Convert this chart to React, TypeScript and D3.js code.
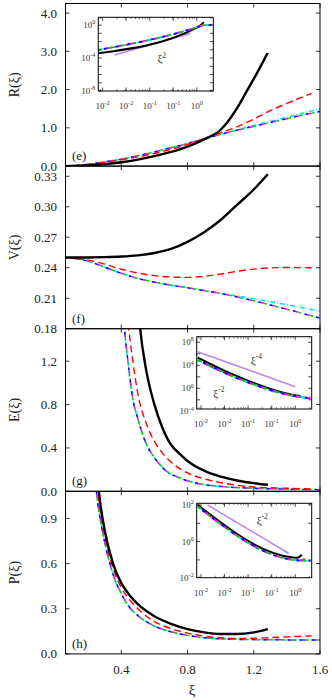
import * as d3 from 'd3';
import React from 'react';

const W = 332;
const H = 700;
const plotLeft = 65.5;
const plotRight = 320;
const panelTop = 3.5;
const panelH = 162.6;
const serif = "'Liberation Serif', 'Times New Roman', serif";

// shared x axis
const xiDomain = [0.063, 1.6];
const xiTicks = [0.4, 0.8, 1.2, 1.6];

// (e) R(xi)
const blackXiR = [0.063, 0.1, 0.2, 0.3, 0.4, 0.5, 0.6, 0.7, 0.8, 0.9, 1.0, 1.05, 1.1, 1.15, 1.2, 1.25, 1.285];
const blackR = [0, 0.003, 0.02, 0.05, 0.1, 0.17, 0.26, 0.37, 0.51, 0.7, 0.95, 1.2, 1.52, 1.9, 2.28, 2.68, 2.97];
const redXiR = [0.063, 0.1, 0.2, 0.3, 0.4, 0.5, 0.6, 0.7, 0.8, 0.9, 1.0, 1.1, 1.2, 1.3, 1.4, 1.55];
const redR = [0, 0.008, 0.045, 0.1, 0.165, 0.24, 0.33, 0.44, 0.57, 0.72, 0.87, 1.03, 1.23, 1.45, 1.64, 1.9];
const colXiR = [0.063, 0.1, 0.2, 0.3, 0.4, 0.5, 0.6, 0.7, 0.8, 0.9, 1.0, 1.1, 1.2, 1.3, 1.4, 1.5, 1.6];
const colR = [0, 0.01, 0.05, 0.11, 0.18, 0.27, 0.37, 0.48, 0.59, 0.71, 0.83, 0.94, 1.04, 1.14, 1.24, 1.34, 1.43];
const cyanR = [0, 0.01, 0.05, 0.11, 0.18, 0.27, 0.37, 0.48, 0.59, 0.71, 0.83, 0.945, 1.06, 1.17, 1.28, 1.39, 1.49];

// (f) V(xi)
const blackXiV = [0.063, 0.2, 0.3, 0.4, 0.5, 0.6, 0.7, 0.8, 0.9, 1.0, 1.1, 1.2, 1.285];
const blackV = [0.25, 0.2501, 0.2504, 0.251, 0.2522, 0.2545, 0.2585, 0.2655, 0.275, 0.287, 0.302, 0.317, 0.332];
const redXiV = [0.063, 0.2, 0.3, 0.4, 0.5, 0.6, 0.7, 0.8, 0.9, 1.0, 1.1, 1.2, 1.3, 1.4, 1.55];
const redV = [0.25, 0.2475, 0.2435, 0.2385, 0.2348, 0.2322, 0.2309, 0.2305, 0.2315, 0.2338, 0.2365, 0.2386, 0.2398, 0.2402, 0.24];
const colXiV = [0.063, 0.2, 0.3, 0.4, 0.5, 0.6, 0.7, 0.8, 0.9, 1.0, 1.1, 1.2, 1.3, 1.4, 1.5, 1.6];
const colV = [0.25, 0.2465, 0.2405, 0.2345, 0.2295, 0.2258, 0.2228, 0.2203, 0.2176, 0.2146, 0.2112, 0.2074, 0.2034, 0.1992, 0.1948, 0.1905];
const cyanV = [0.25, 0.2465, 0.2405, 0.2345, 0.2295, 0.2258, 0.2228, 0.2203, 0.2176, 0.2146, 0.2122, 0.2095, 0.2066, 0.2036, 0.2004, 0.1972];

// (g) E(xi)
const blackXiE = [0.5, 0.514, 0.55, 0.6, 0.65, 0.7, 0.75, 0.8, 0.9, 1.0, 1.1, 1.2, 1.285];
const blackE = [1.75, 1.5, 1.12, 0.8, 0.58, 0.43, 0.35, 0.28, 0.19, 0.135, 0.1, 0.075, 0.06];
const redXiE = [0.43, 0.445, 0.47, 0.5, 0.55, 0.6, 0.65, 0.7, 0.8, 0.9, 1.0, 1.1, 1.2, 1.4, 1.55];
const redE = [1.75, 1.5, 1.2, 0.9, 0.63, 0.46, 0.35, 0.27, 0.17, 0.115, 0.08, 0.055, 0.04, 0.028, 0.022];
const colXiE = [0.41, 0.42, 0.44, 0.47, 0.5, 0.55, 0.6, 0.67, 0.75, 0.87, 1.0, 1.2, 1.4, 1.6];
const colE = [1.75, 1.5, 1.2, 0.85, 0.67, 0.44, 0.31, 0.19, 0.125, 0.07, 0.045, 0.028, 0.02, 0.015];

// (h) P(xi)
const blackXiP = [0.255, 0.265, 0.3, 0.35, 0.4, 0.45, 0.5, 0.6, 0.7, 0.8, 0.9, 1.0, 1.1, 1.2, 1.285];
const blackP = [1.2, 1.077, 0.82, 0.6, 0.47, 0.39, 0.33, 0.25, 0.2, 0.165, 0.143, 0.132, 0.132, 0.143, 0.165];
const redXiP = [0.25, 0.26, 0.3, 0.35, 0.4, 0.45, 0.5, 0.6, 0.7, 0.8, 0.9, 1.0, 1.1, 1.2, 1.3, 1.4, 1.55];
const redP = [1.2, 1.077, 0.78, 0.57, 0.44, 0.36, 0.3, 0.215, 0.168, 0.138, 0.118, 0.107, 0.103, 0.104, 0.108, 0.113, 0.12];
const colXiP = [0.24, 0.25, 0.28, 0.3, 0.35, 0.4, 0.45, 0.5, 0.6, 0.7, 0.8, 0.9, 1.0, 1.2, 1.4, 1.6];
const colP = [1.2, 1.077, 0.85, 0.74, 0.53, 0.4, 0.31, 0.255, 0.185, 0.147, 0.123, 0.108, 0.1, 0.095, 0.093, 0.092];

// insets (log-log)
const insetXTickVals = [0.01, 0.0316, 0.1, 0.316, 1];
const insetXTickExp = ['-2', '-2', '-1', '-1', '0'];

const insRXiBlack = [0.0079, 1.0, 1.41];
const insRBlack = [3.7e-4, 0.5, 2.3];
const insRXiCol = [0.0079, 1.0, 1.3, 2.1];
const insRCol = [9.3e-4, 0.55, 0.9, 1.05];
const insRXiRed = [0.0079, 1.0, 1.4, 1.9];
const insRRed = [9.3e-4, 0.55, 1.05, 1.1];
const insRXiRef = [0.0178, 0.72];
const insRRef = [2.3e-4, 0.1];

const insEXiBlack = [0.0085, 0.05, 0.91, 1.29];
const insEBlack = [2.1e5, 205, 0.069, 0.045];
const insEXiCol = [0.0085, 0.05, 0.91, 2.1];
const insECol = [8.4e4, 100, 0.05, 0.018];
const insEXiRef = [0.0085, 1.0];
const insERef = [2.3e6, 1.9];

const insPXiBlack = [0.0085, 0.91, 1.1, 1.38];
const insPBlack = [100, 0.135, 0.13, 0.19];
const insPXiCol = [0.0085, 0.91, 2.1];
const insPCol = [81, 0.1, 0.088];
const insPXiRed = [0.0085, 0.91, 1.3, 1.7];
const insPRed = [85, 0.105, 0.1, 0.115];
const insPXiRef = [0.0138, 0.72];
const insPRef = [100, 0.23];

type Series = { xi: number[]; v: number[]; color: string; width: number; dash?: string; offset?: number };

const colouredSet = (xi: number[], v: number[], cyan: number[] | null, width: number): Series[] => [
  { xi, v: cyan || v, color: '#00e5ee', width, dash: '5,2,1,2' },
  { xi, v, color: '#00d000', width, dash: '3,9', offset: 0 },
  { xi, v, color: '#ff00ff', width, dash: '3,9', offset: 3 },
  { xi, v, color: '#0000ff', width, dash: '3,9', offset: 6 },
];

const mainSeries = (bx, bv, rx, rv, cx, cv, cyan): Series[] => [
  ...colouredSet(cx, cv, cyan, 1.5),
  { xi: rx, v: rv, color: '#ff0000', width: 1.4, dash: '7,4' },
  { xi: bx, v: bv, color: '#000000', width: 2.4 },
];

function Sup({ base, exp, x, y, anchor, size }) {
  return (
    <text x={x} y={y} textAnchor={anchor} fontFamily={serif} fontSize={size} fill="#333">
      {base}
      <tspan fontSize={size * 0.68} dy={-size * 0.42}>{exp}</tspan>
    </text>
  );
}

function Inset({ box, yDomain, yTicks, yLabels, series, notes }) {
  const [x0, y0, x1, y1] = box;
  const x = d3.scaleLog().domain([0.0081, 2.24]).range([x0, x1]);
  const y = d3.scaleLog().domain(yDomain).range([y1, y0]);
  const minor: number[] = [];
  [0.001, 0.01, 0.1, 1].forEach(d => d3.range(2, 10).forEach(k => {
    const v = d * k;
    if (v > 0.0081 && v < 2.24) minor.push(v);
  }));
  const clipId = `ic-${y0}`;
  const line = (s: Series) => d3.line<number>()
    .x((_, i) => x(s.xi[i]))
    .y(d => y(d))
    .curve(d3.curveMonotoneX)(s.v);
  return (
    <g>
      <defs>
        <clipPath id={clipId}><rect x={x0} y={y0} width={x1 - x0} height={y1 - y0} /></clipPath>
      </defs>
      <rect x={x0} y={y0} width={x1 - x0} height={y1 - y0} fill="#fff" />
      <g clipPath={`url(#${clipId})`}>
        {series.map((s, i) => (
          <path key={i} d={line(s) || ''} fill="none" stroke={s.color} strokeWidth={s.width}
            strokeDasharray={s.dash} strokeDashoffset={s.offset} />
        ))}
      </g>
      <rect x={x0} y={y0} width={x1 - x0} height={y1 - y0} fill="none" stroke="#000" strokeWidth={1} />
      {minor.map((v, i) => (
        <g key={'m' + i} stroke="#000" strokeWidth={0.5}>
          <line x1={x(v)} x2={x(v)} y1={y1} y2={y1 - 2} />
          <line x1={x(v)} x2={x(v)} y1={y0} y2={y0 + 2} />
        </g>
      ))}
      {insetXTickVals.map((v, i) => (
        <g key={'x' + i}>
          <line x1={x(v)} x2={x(v)} y1={y1} y2={y1 - 3.5} stroke="#000" strokeWidth={0.7} />
          <line x1={x(v)} x2={x(v)} y1={y0} y2={y0 + 3.5} stroke="#000" strokeWidth={0.7} />
          <Sup base="10" exp={insetXTickExp[i]} x={x(v)} y={y1 + 18} anchor="middle" size={9} />
        </g>
      ))}
      {yTicks.map((v, i) => (
        <g key={'y' + i} stroke="#000" strokeWidth={0.7}>
          <line x1={x0} x2={x0 + 3.5} y1={y(v)} y2={y(v)} />
          <line x1={x1} x2={x1 - 3.5} y1={y(v)} y2={y(v)} />
        </g>
      ))}
      {yLabels.map(([v, e], i) => (
        <Sup key={'yl' + i} base="10" exp={e} x={x0 - 3} y={y(v) + 3} anchor="end" size={9} />
      ))}
      {notes.map(([nx, ny, e], i) => (
        <Sup key={'n' + i} base="ξ" exp={e} x={x(nx)} y={y(ny)} anchor="middle" size={11} />
      ))}
    </g>
  );
}

function Panel({ index, tag, yLabel, yDomain, yTicks, yFmt, series, children }) {
  const top = panelTop + index * panelH;
  const bottom = top + panelH;
  const x = d3.scaleLinear().domain(xiDomain).range([plotLeft, plotRight]);
  const y = d3.scaleLinear().domain(yDomain).range([bottom, top]);
  const fmt = d3.format(yFmt);
  const clipId = `clip-${index}`;
  const line = (s: Series) => d3.line<number>()
    .x((_, i) => x(s.xi[i]))
    .y(d => y(d))
    .curve(d3.curveMonotoneX)(s.v);
  return (
    <g>
      <defs>
        <clipPath id={clipId}><rect x={plotLeft} y={top} width={plotRight - plotLeft} height={panelH} /></clipPath>
      </defs>
      <g clipPath={`url(#${clipId})`}>
        {series.map((s, i) => (
          <path key={i} d={line(s) || ''} fill="none" stroke={s.color} strokeWidth={s.width}
            strokeDasharray={s.dash} strokeDashoffset={s.offset} strokeLinecap="butt" />
        ))}
      </g>
      <rect x={plotLeft} y={top} width={plotRight - plotLeft} height={panelH} fill="none" stroke="#000" strokeWidth={1} />
      {xiTicks.map((t, i) => (
        <g key={'xt' + i} stroke="#000" strokeWidth={0.8}>
          <line x1={x(t)} x2={x(t)} y1={bottom} y2={bottom - 4} />
          <line x1={x(t)} x2={x(t)} y1={top} y2={top + 4} />
        </g>
      ))}
      {yTicks.map((t, i) => (
        <g key={'yt' + i}>
          <line x1={plotLeft} x2={plotLeft + 4} y1={y(t)} y2={y(t)} stroke="#000" strokeWidth={0.8} />
          <line x1={plotRight} x2={plotRight - 4} y1={y(t)} y2={y(t)} stroke="#000" strokeWidth={0.8} />
          <text x={57} y={y(t) + 4.5} textAnchor="end" fontFamily={serif} fontSize={13} fill="#222">{fmt(t)}</text>
        </g>
      ))}
      <text x={72} y={bottom - 6} fontFamily={serif} fontSize={13} fill="#222">{tag}</text>
      <text transform={`translate(19,${(top + bottom) / 2}) rotate(-90)`} textAnchor="middle"
        fontFamily={serif} fontSize={14} fill="#222">{yLabel}</text>
      {children}
    </g>
  );
}

export default function App() {
  const x = d3.scaleLinear().domain(xiDomain).range([plotLeft, plotRight]);
  const bottom = panelTop + 4 * panelH;
  const insetCol = (xi, v, w) => colouredSet(xi, v, null, w);
  const ref = (xi, v): Series => ({ xi, v, color: '#bb88ee', width: 1.6 });
  return (
    <div>
      <style>{'body{margin:0}'}</style>
      <svg width={W} height={H} style={{ display: 'block', background: '#fff' }}>
        <Panel index={0} tag="(e)" yLabel="R(ξ)" yDomain={[0, 4.25]} yTicks={[0, 1, 2, 3, 4]} yFmt=".1f"
          series={mainSeries(blackXiR, blackR, redXiR, redR, colXiR, colR, cyanR)}>
          <Inset box={[98.3, 17.3, 213.3, 91]} yDomain={[1e-8, Math.pow(10, 0.95)]}
            yTicks={[1e-8, 1e-7, 1e-6, 1e-5, 1e-4, 1e-3, 1e-2, 1e-1, 1]}
            yLabels={[[1, '0'], [1e-4, '-4'], [1e-8, '-8']]}
            series={[
              ref(insRXiRef, insRRef),
              { xi: insRXiBlack, v: insRBlack, color: '#000', width: 2 },
              { xi: insRXiRed, v: insRRed, color: '#ff0000', width: 1.5, dash: '4,3' },
              ...insetCol(insRXiCol, insRCol, 1.8),
            ]}
            notes={[[0.18, 3e-5, '2']]} />
        </Panel>
        <Panel index={1} tag="(f)" yLabel="V(ξ)" yDomain={[0.18, 0.34]} yTicks={[0.18, 0.21, 0.24, 0.27, 0.30, 0.33]} yFmt=".2f"
          series={mainSeries(blackXiV, blackV, redXiV, redV, colXiV, colV, cyanV)} />
        <Panel index={2} tag="(g)" yLabel="E(ξ)" yDomain={[0, 1.5]} yTicks={[0, 0.4, 0.8, 1.2]} yFmt=".1f"
          series={mainSeries(blackXiE, blackE, redXiE, redE, colXiE, colE, null)}>
          <Inset box={[196.7, 336.7, 311.7, 409]} yDomain={[Math.pow(10, -3.6), Math.pow(10, 8.97)]}
            yTicks={[1e-2, 1, 1e2, 1e4, 1e6, 1e8]}
            yLabels={[[1e8, '8'], [1e4, '4'], [1, '0'], [1e-4, '-4']]}
            series={[
              ref(insEXiRef, insERef),
              { xi: insEXiBlack, v: insEBlack, color: '#000', width: 2.2 },
              { xi: insEXiCol, v: insECol, color: '#ff0000', width: 1.8, dash: '4,3' },
              ...insetCol(insEXiCol, insECol, 2),
            ]}
            notes={[[0.15, 1.6e4, '-4'], [0.024, 0.03, '-2']]} />
        </Panel>
        <Panel index={3} tag="(h)" yLabel="P(ξ)" yDomain={[0, 1.08]} yTicks={[0, 0.3, 0.6, 0.9]} yFmt=".1f"
          series={mainSeries(blackXiP, blackP, redXiP, redP, colXiP, colP, null)}>
          <Inset box={[196.7, 503.3, 311.7, 577.7]} yDomain={[Math.pow(10, -1.97), Math.pow(10, 2.09)]}
            yTicks={[1e-1, 1, 10, 100]}
            yLabels={[[100, '2'], [1, '0'], [1e-2, '-2']]}
            series={[
              ref(insPXiRef, insPRef),
              { xi: insPXiBlack, v: insPBlack, color: '#000', width: 2 },
              { xi: insPXiRed, v: insPRed, color: '#ff0000', width: 1.5, dash: '4,3' },
              ...insetCol(insPXiCol, insPCol, 1.8),
            ]}
            notes={[[0.2, 9.3, '-2']]} />
        </Panel>
        {xiTicks.map((t, i) => (
          <text key={i} x={x(t)} y={bottom + 20} textAnchor="middle" fontFamily={serif} fontSize={13} fill="#222">
            {d3.format('.1f')(t)}
          </text>
        ))}
        <text x={192} y={bottom + 41} textAnchor="middle" fontFamily={serif} fontSize={15} fill="#222">ξ</text>
      </svg>
    </div>
  );
}
